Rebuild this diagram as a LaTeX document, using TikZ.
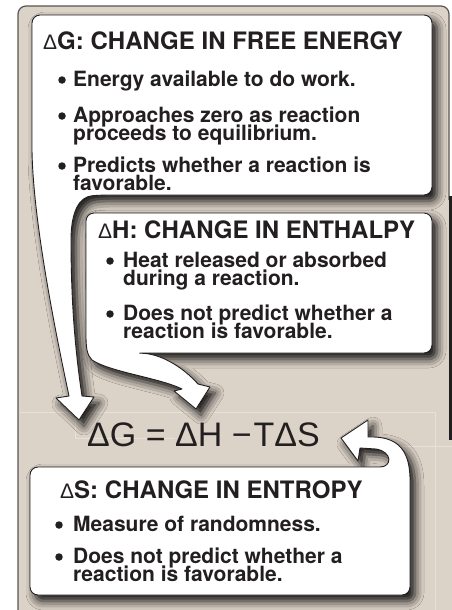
\documentclass[tikz,border=0pt]{standalone}
\usepackage{fontspec}
\setmainfont{TeX Gyre Heros}
\newfontfamily\grk{Liberation Sans}
\usetikzlibrary{shadows.blur}
\definecolor{panelbg}{HTML}{DCD3C8}
\definecolor{panelline}{HTML}{5A5552}
\definecolor{faint}{HTML}{E8E1D8}
\definecolor{ink}{HTML}{231F20}
\tikzset{
  card/.style={fill=white, draw=ink, line width=0.9pt, line join=round,
    blur shadow={shadow xshift=5pt, shadow yshift=-6pt, shadow blur radius=9pt, shadow opacity=95}},
  head/.style={anchor=base west, inner sep=0pt, text=ink, font=\bfseries\fontsize{24}{24}\selectfont},
  txt/.style={anchor=base west, inner sep=0pt, text=ink, font=\bfseries\fontsize{21}{21}\selectfont},
  bul/.style={circle, fill=ink, inner sep=0pt, minimum size=7.5pt},
}
\newcommand{\dg}{{\grk\mdseries\fontsize{21}{21}\selectfont Δ}}
\begin{document}
\begin{tikzpicture}[x=1pt, y=-1pt]
  \useasboundingbox (0,0) rectangle (452,610);
  % panel
  \fill[panelbg, rounded corners=8pt] (18,6) rectangle (449,640);
  \fill[panelbg] (440,440) rectangle (452,610);
  \draw[panelline, line width=1.2pt, rounded corners=8pt] (18,610) -- (18,6) -- (449,6) -- (449,200);
  \draw[ink, line width=3pt] (450,196) -- (450,440);
  \draw[faint, line width=0.8pt] (20,412) -- (435,412) -- (435,610);
  \draw[faint, line width=0.8pt] (75,412) -- (75,438) -- (175,438);
  \draw[faint, line width=0.8pt] (345,446) -- (452,446);

  % Delta G card + arrow
  \draw[card] (32,150) [rounded corners=8pt] -- (32,15) -- (432,15) -- (432,195) -- (100,195)
    [sharp corners] .. controls (79,197) and (71,212) .. (71,240)
    .. controls (71,300) and (75,350) .. (82,396) -- (94,397) -- (79,420) -- (56,398) -- (69,396)
    .. controls (55,330) and (33,220) .. (32,150) -- cycle;
  \node[head] (gHead) at (43,50) {\dg G: CHANGE IN FREE ENERGY};
  \node[bul] (gDot1) at (62,80) {};
  \node[txt] (gA) at (73,86) {Energy available to do work.};
  \node[bul] (gDot2) at (62,116) {};
  \node[txt] (gB1) at (73,122) {Approaches zero as reaction};
  \node[txt] (gB2) at (73,140) {proceeds to equilibrium.};
  \node[bul] (gDot3) at (62,166) {};
  \node[txt] (gC1) at (73,172) {Predicts whether a reaction is};
  \node[txt] (gC2) at (73,190) {favorable.};

  % Delta H card + arrow
  \draw[card] (86,300) [rounded corners=8pt] -- (86,213) -- (432,213) -- (432,353) -- (135,353)
    [sharp corners] .. controls (160,354) and (182,366) .. (198,384) -- (210,387) -- (196,409)
    -- (174,391) -- (182,389) .. controls (160,378) and (110,372) .. (92,360)
    .. controls (87,355) and (86,348) .. (86,335) -- cycle;
  \node[head] (hHead) at (98,238) {\dg H: CHANGE IN ENTHALPY};
  \node[bul] (hDot1) at (110,261) {};
  \node[txt] (hA1) at (123,267) {Heat released or absorbed};
  \node[txt] (hA2) at (123,285) {during a reaction.};
  \node[bul] (hDot2) at (110,314) {};
  \node[txt] (hB1) at (123,320) {Does not predict whether a};
  \node[txt] (hB2) at (123,338) {reaction is favorable.};

  % Delta S card + arrow
  \draw[card] (30,530) [rounded corners=8pt] -- (30,467) -- (372,467)
    [sharp corners] .. controls (392,467) and (393,452) .. (376,449) -- (360,448)
    -- (358,461) -- (341,438) -- (368,420) -- (368,437)
    .. controls (395,436) and (410,447) .. (410,480)
    [rounded corners=8pt] -- (410,595) -- (30,595) -- cycle;
  \node[head] (sHead) at (60,498) {\dg S: CHANGE IN ENTROPY};
  \node[bul] (sDot1) at (59,525) {};
  \node[txt] (sA) at (73,531) {Measure of randomness.};
  \node[bul] (sDot2) at (59,557) {};
  \node[txt] (sB1) at (73,563) {Does not predict whether a};
  \node[txt] (sB2) at (73,581) {reaction is favorable.};

  % equation
  \node[anchor=base west, inner sep=0pt, text=ink, font=\grk\fontsize{34}{34}\selectfont] (eq) at (87,446)
    {ΔG = ΔH −\hspace{2pt}TΔS};
\end{tikzpicture}
\end{document}
